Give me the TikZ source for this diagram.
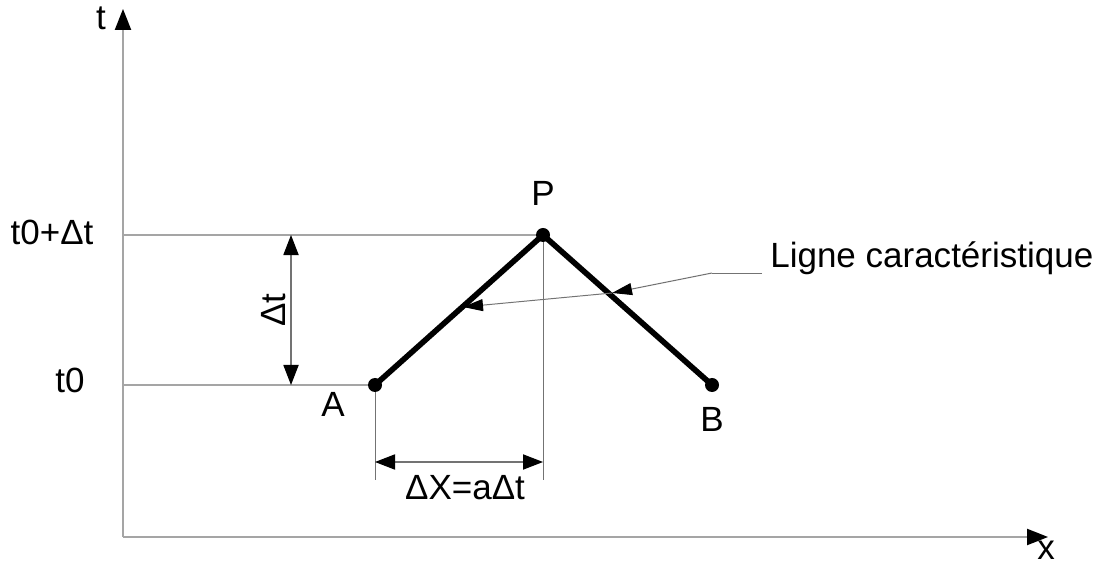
\documentclass[tikz,border=0pt]{standalone}
\usepackage{fontspec}
\setmainfont{Liberation Sans}
\usetikzlibrary{arrows.meta,calc}
\definecolor{axisgray}{RGB}{165,165,165}
\definecolor{dimgray}{RGB}{115,115,115}

\begin{document}
\begin{tikzpicture}[x=0.025cm, y=0.025cm, font=\fontsize{24.9}{30}\selectfont,
    axisline/.style={draw=axisgray, line width=1.3pt, -{Triangle[length=5.2mm,width=4mm,color=black]}},
    refline/.style={draw=axisgray, line width=1pt},
    dimline/.style={draw=dimgray, line width=0.8pt, {Triangle[length=5mm,width=3.8mm,color=black]}-{Triangle[length=5mm,width=3.8mm,color=black]}},
    leader/.style={draw=dimgray, line width=0.7pt},
    charline/.style={line width=4pt},
    dot/.style={circle, fill=black, inner sep=0pt, minimum size=3.5mm}]
        \useasboundingbox (0,0) rectangle (1102,565);

        % Points of the scheme
        \coordinate (O) at (123,28);
        \coordinate (ttip) at (123,556);
        \coordinate (xtip) at (1048,28);
        \coordinate (A) at (375,180);
        \coordinate (P) at (543,330);
        \coordinate (B) at (712,180);
        \coordinate (At0) at (123,180);
        \coordinate (Pt1) at (123,330);

        % Axes
        \draw[axisline] (O) -- (ttip);
        \draw[axisline] (O) -- (xtip);
        \node[anchor=base] (tlab) at (101,535) {t};
        \node[anchor=base, inner sep=0pt] (xlab) at (1046,6) {x};

        % Reference lines t0 and t0+Dt
        \draw[refline] (At0) -- (A);
        \draw[refline] (Pt1) -- (P);
        \node[anchor=base] (t0lab) at (70,172) {t0};
        \node[anchor=base] (t1lab) at (52,320) {t0+Δt};

        % Extension lines for Dx
        \coordinate (Aext) at (375,85);
        \coordinate (Pext) at (543,85);
        \draw[leader] (A) -- (Aext);
        \draw[leader] (P) -- (Pext);

        % Dimensions
        \coordinate (dt0) at (291,180);
        \coordinate (dt1) at (291,330);
        \draw[dimline] (dt0) -- (dt1);
        \node[anchor=base, rotate=90] (dtlab) at (285,255) {Δt};
        \coordinate (dx0) at (375,103);
        \coordinate (dx1) at (543,103);
        \draw[dimline] (dx0) -- (dx1);
        \node[anchor=base] (dxlab) at (465,66) {ΔX=aΔt};

        % Characteristic lines
        \draw[charline] (A) -- (P) -- (B);
        \node[dot] (Adot) at (A) {};
        \node[dot] (Pdot) at (P) {};
        \node[dot] (Bdot) at (B) {};
        \node[anchor=base] (Alab) at (333,148) {A};
        \node[anchor=base] (Plab) at (543,359) {P};
        \node[anchor=base] (Blab) at (712,133) {B};

        % Leader to the label
        \node[anchor=base west, inner sep=0pt] (ligne) at (770,297) {Ligne caractéristique};
        \coordinate (lend) at (762,292);
        \coordinate (elbow) at (712,292);
        \coordinate (c1) at (612,272);
        \coordinate (c2) at (463,258);
        \draw[leader] (lend) -- (elbow);
        \draw[leader, -{Triangle[length=5mm,width=3mm,color=black]}] (elbow) -- (c1);
        \draw[leader, -{Triangle[length=5mm,width=3mm,color=black]}] (c1) -- (c2);
    \end{tikzpicture}
\end{document}
